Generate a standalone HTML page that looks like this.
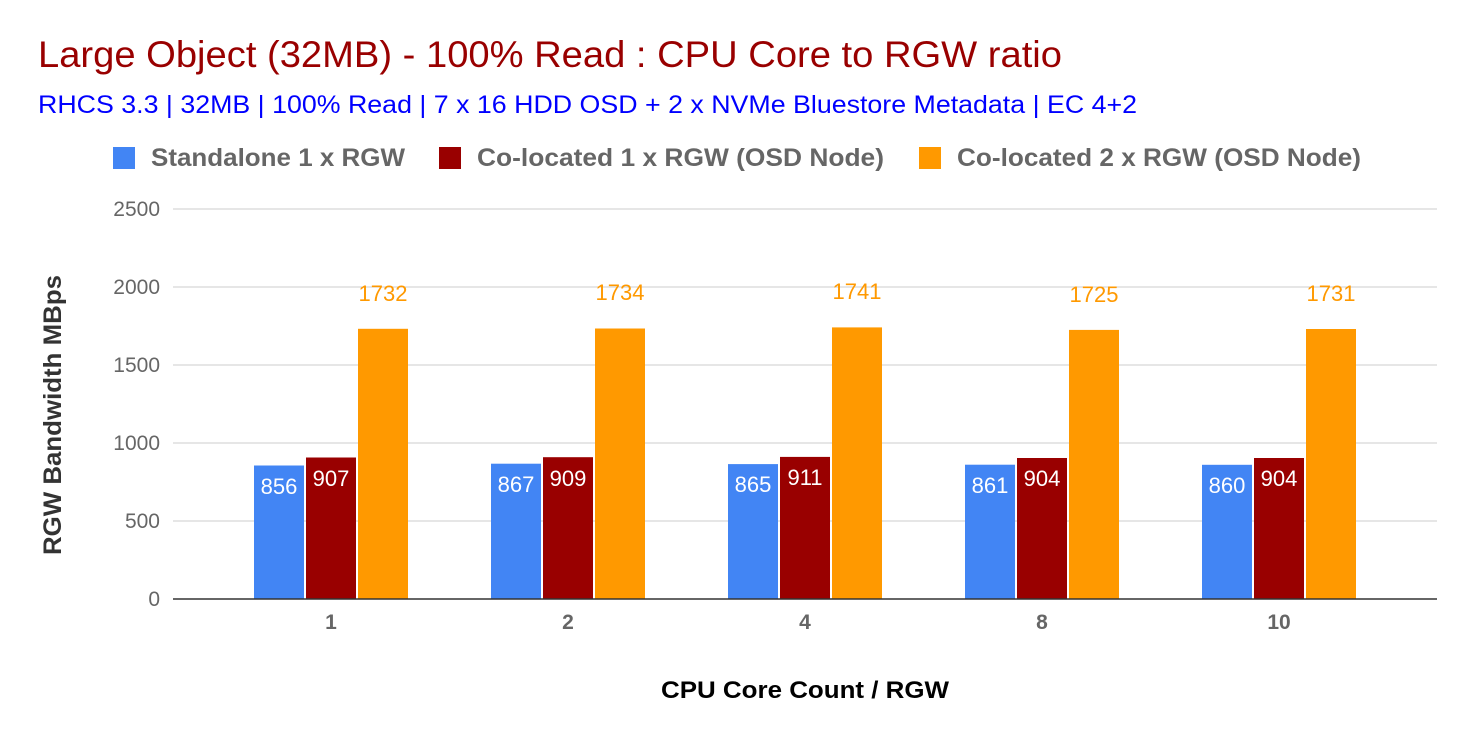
<!DOCTYPE html>
<html><head><meta charset="utf-8"><style>
body{margin:0;background:#fff}
svg{display:block;font-family:"Liberation Sans",Arial,sans-serif}
</style></head><body>
<svg width="1474" height="742" viewBox="0 0 1474 742" xmlns="http://www.w3.org/2000/svg">
<text x="38" y="67" font-size="37" fill="#990000" textLength="1024" lengthAdjust="spacingAndGlyphs">Large Object (32MB) - 100% Read : CPU Core to RGW ratio</text>
<text x="38" y="113" font-size="25" fill="#0000ff" textLength="1099" lengthAdjust="spacingAndGlyphs">RHCS 3.3 | 32MB | 100% Read | 7 x 16 HDD OSD + 2 x NVMe Bluestore Metadata | EC 4+2</text>
<g font-size="25" font-weight="bold" fill="#666">
<rect x="113" y="147" width="22" height="22" fill="#4285f4"/><text x="151" y="166" textLength="254" lengthAdjust="spacingAndGlyphs">Standalone 1 x RGW</text>
<rect x="439" y="147" width="22" height="22" fill="#990000"/><text x="477" y="166" textLength="407" lengthAdjust="spacingAndGlyphs">Co-located 1 x RGW (OSD Node)</text>
<rect x="919" y="147" width="22" height="22" fill="#ff9900"/><text x="957" y="166" textLength="404" lengthAdjust="spacingAndGlyphs">Co-located 2 x RGW (OSD Node)</text>
</g>
<g stroke="#ccc" stroke-width="1">
<line x1="173" y1="209" x2="1437" y2="209"/><line x1="173" y1="287" x2="1437" y2="287"/><line x1="173" y1="365" x2="1437" y2="365"/><line x1="173" y1="443" x2="1437" y2="443"/><line x1="173" y1="521" x2="1437" y2="521"/>
</g>
<g font-size="21" fill="#666" text-anchor="end">
<text x="160" y="216">2500</text><text x="160" y="294">2000</text><text x="160" y="372">1500</text><text x="160" y="450">1000</text><text x="160" y="528">500</text><text x="160" y="606">0</text>
</g>
<text transform="translate(61,415) rotate(-90)" font-size="25" font-weight="bold" fill="#333" text-anchor="middle" textLength="280" lengthAdjust="spacingAndGlyphs">RGW Bandwidth MBps</text>
<g>
<rect x="254" y="465.5" width="50" height="133.5" fill="#4285f4"/><rect x="306" y="457.5" width="50" height="141.5" fill="#990000"/><rect x="358" y="328.8" width="50" height="270.2" fill="#ff9900"/>
<rect x="491" y="463.7" width="50" height="135.3" fill="#4285f4"/><rect x="543" y="457.2" width="50" height="141.8" fill="#990000"/><rect x="595" y="328.5" width="50" height="270.5" fill="#ff9900"/>
<rect x="728" y="464.1" width="50" height="134.9" fill="#4285f4"/><rect x="780" y="456.9" width="50" height="142.1" fill="#990000"/><rect x="832" y="327.4" width="50" height="271.6" fill="#ff9900"/>
<rect x="965" y="464.7" width="50" height="134.3" fill="#4285f4"/><rect x="1017" y="458" width="50" height="141" fill="#990000"/><rect x="1069" y="329.9" width="50" height="269.1" fill="#ff9900"/>
<rect x="1202" y="464.8" width="50" height="134.2" fill="#4285f4"/><rect x="1254" y="458" width="50" height="141" fill="#990000"/><rect x="1306" y="329" width="50" height="270" fill="#ff9900"/>
</g>
<g font-size="22" fill="#fff" text-anchor="middle">
<text x="279" y="494">856</text><text x="331" y="486">907</text>
<text x="516" y="492">867</text><text x="568" y="486">909</text>
<text x="753" y="492">865</text><text x="805" y="485">911</text>
<text x="990" y="493">861</text><text x="1042" y="486">904</text>
<text x="1227" y="493">860</text><text x="1279" y="486">904</text>
</g>
<g font-size="22" fill="#ff9900" text-anchor="middle">
<text x="383" y="301">1732</text><text x="620" y="300">1734</text><text x="857" y="299">1741</text><text x="1094" y="302">1725</text><text x="1331" y="301">1731</text>
</g>
<line x1="173" y1="599" x2="1437" y2="599" stroke="#333" stroke-width="1.5"/>
<g font-size="21" font-weight="bold" fill="#666" text-anchor="middle">
<text x="331" y="629">1</text><text x="568" y="629">2</text><text x="805" y="629">4</text><text x="1042" y="629">8</text><text x="1279" y="629">10</text>
</g>
<text x="805" y="698" font-size="24" font-weight="bold" fill="#000" text-anchor="middle" textLength="288" lengthAdjust="spacingAndGlyphs">CPU Core Count / RGW</text>
</svg>
</body></html>
